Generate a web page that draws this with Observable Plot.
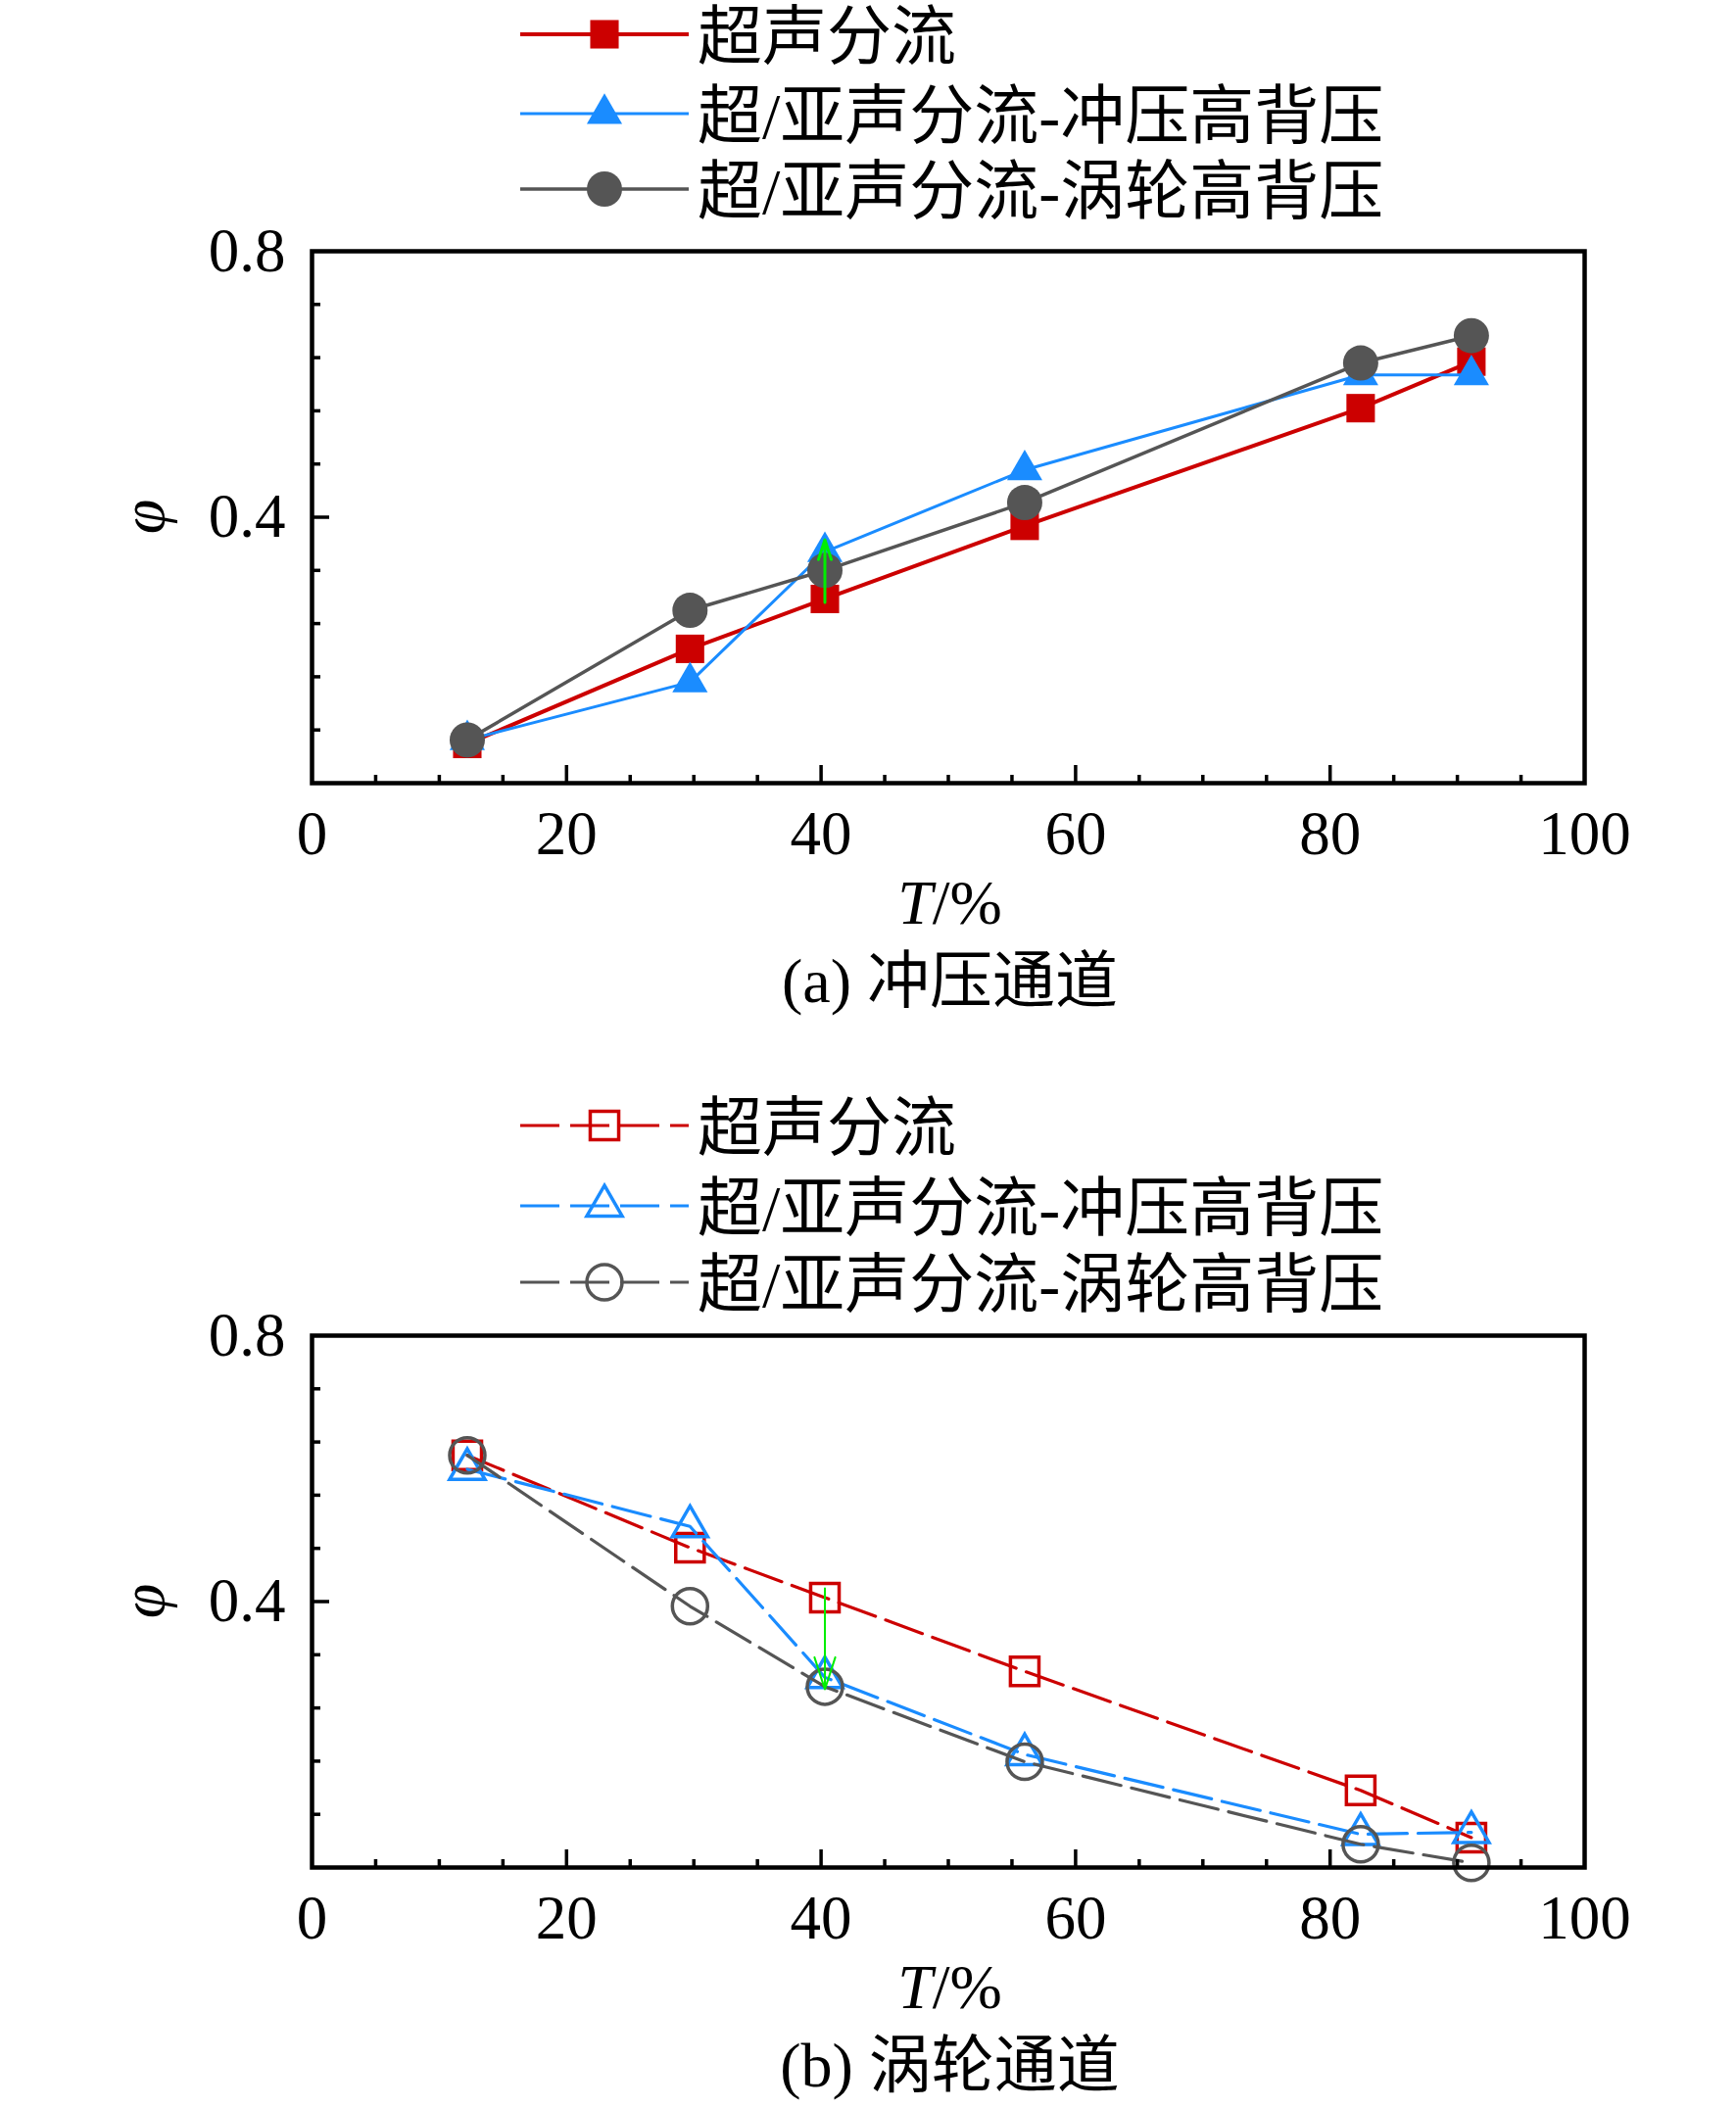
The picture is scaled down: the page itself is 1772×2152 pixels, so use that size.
<!DOCTYPE html>
<html>
<head>
<meta charset="utf-8">
<script src="https://cdn.jsdelivr.net/npm/d3@7"></script>
<script src="https://cdn.jsdelivr.net/npm/@observablehq/plot@0.6"></script>
<style>
  html, body { margin: 0; padding: 0; background: #ffffff; }
  #root { position: relative; width: 1772px; height: 2152px; overflow: hidden; background: #ffffff; }
  #root svg.panel { position: absolute; left: 0; }
  #overlay { position: absolute; left: 0; top: 0; pointer-events: none; }
</style>
</head>
<body>
<div id="root"></div>
<script>
// ---------------- data ----------------
const T = [12.2, 29.7, 40.3, 56.0, 82.4, 91.1];            // T / %
const seriesNames = ["超声分流", "超/亚声分流-冲压高背压", "超/亚声分流-涡轮高背压"];

// (a) 冲压通道
const ramSupersonic   = [0.059, 0.202, 0.277, 0.387, 0.564, 0.634];
const ramRamHigh      = [0.065, 0.152, 0.348, 0.471, 0.614, 0.614];
const ramTurbineHigh  = [0.065, 0.260, 0.320, 0.422, 0.632, 0.673];

// (b) 涡轮通道
const turbSupersonic  = [0.620, 0.481, 0.406, 0.295, 0.116, 0.045];
const turbRamHigh     = [0.599, 0.513, 0.286, 0.170, 0.050, 0.053];
const turbTurbineHigh = [0.620, 0.393, 0.272, 0.159, 0.035, 0.007];

// green arrows at T = 40.3
const arrowT  = [40.3];
const arrowA  = [0.272, 0.366];   // from, to
const arrowB  = [0.420, 0.268];   // from, to

// ticks
const xLabelTicks = [0, 20, 40, 60, 80, 100];
const xMajorTicks = [20, 40, 60, 80];
const xMinorTicks = [5, 10, 15, 25, 30, 35, 45, 50, 55, 65, 70, 75, 85, 90, 95];
const yLabelTicks = [0.4, 0.8];
const yMajorTicks = [0.4];
const yMinorTicks = [0.08, 0.16, 0.24, 0.32, 0.48, 0.56, 0.64, 0.72];
const captions = ["(a) 冲压通道", "(b) 涡轮通道"];

// ---------------- styles ----------------
const colors  = ["#cc0000", "#1a8cff", "#555555"];
const symbols = ["square", "triangle", "circle"];
const radii   = [16.4, 13.4, 18];
const solidWidths = [4, 3, 3.5];
const dash = "40,11";
const SERIF = "'Liberation Serif', 'Times New Roman', 'Noto Sans CJK SC', serif";

const W = 1772;
const FRAME_L = 318, FRAME_R = 1617, FRAME_H = 543;
const MT = 56, MB = 90;

function panel(valuesList, arrowVals, hollow) {
  const marks = [];
  valuesList.forEach((vals, k) => {
    const data = T.map((t, i) => ({t, v: vals[i]}));
    marks.push(Plot.line(data, {
      x: "t", y: "v", stroke: colors[k],
      strokeWidth: hollow ? 3.2 : solidWidths[k],
      strokeDasharray: hollow ? dash : null
    }));
    marks.push(Plot.dot(data, {
      x: "t", y: "v", symbol: symbols[k], r: radii[k],
      fill: hollow ? "none" : colors[k],
      stroke: hollow ? colors[k] : "none",
      strokeWidth: hollow ? 3.5 : 0
    }));
  });
  const arrowData = arrowT.map(t => ({t, y1: arrowVals[0], y2: arrowVals[1]}));
  marks.push(Plot.arrow(arrowData, {
    x1: "t", x2: "t", y1: "y1", y2: "y2",
    stroke: "#00ee00", strokeWidth: hollow ? 2 : 3, headLength: hollow ? 30 : 26, headAngle: 36
  }));
  // ticks (inward)
  marks.push(Plot.axisX({ticks: xMajorTicks, tickSize: -18, tickFormat: () => "", strokeWidth: 3.5, label: null}));
  marks.push(Plot.axisX({ticks: xMinorTicks, tickSize: -8, tickFormat: () => "", strokeWidth: 3.5, label: null}));
  marks.push(Plot.axisY({ticks: yMajorTicks, tickSize: -18, tickFormat: () => "", strokeWidth: 3.5, label: null}));
  marks.push(Plot.axisY({ticks: yMinorTicks, tickSize: -9, tickFormat: () => "", strokeWidth: 3.5, label: null}));
  // tick labels
  marks.push(Plot.axisX({ticks: xLabelTicks, tickSize: 0, tickPadding: 28, fontSize: 63, label: null, tickFormat: d => String(d)}));
  marks.push(Plot.axisY({ticks: yLabelTicks, tickSize: 0, tickPadding: 27, fontSize: 63, label: null, tickFormat: d => d.toFixed(1)}));
  marks.push(Plot.frame({stroke: "#000", strokeWidth: 4.5}));
  const svg = Plot.plot({
    width: W, height: MT + FRAME_H + MB,
    marginLeft: FRAME_L, marginRight: W - FRAME_R, marginTop: MT, marginBottom: MB,
    x: {domain: [0, 100]},
    y: {domain: [0, 0.8]},
    style: {fontFamily: SERIF, fontSize: "63px", color: "#000", background: "transparent", overflow: "visible"},
    marks
  });
  svg.classList.add("panel");
  return svg;
}

const root = document.getElementById("root");
const frameTops = [256, 1363];
const svgA = panel([ramSupersonic, ramRamHigh, ramTurbineHigh], arrowA, false);
svgA.style.top = (frameTops[0] - MT) + "px";
root.appendChild(svgA);
const svgB = panel([turbSupersonic, turbRamHigh, turbTurbineHigh], arrowB, true);
svgB.style.top = (frameTops[1] - MT) + "px";
root.appendChild(svgB);

// ---------------- overlay: legends, axis titles, captions ----------------
const ov = d3.select(root).append("svg").attr("id", "overlay")
  .attr("width", W).attr("height", 2152)
  .style("font-family", SERIF);

const legendRows = [[35, 116, 193], [1149, 1231, 1309]];
const LEG_X0 = 531, LEG_X1 = 703, LEG_MX = 617, LEG_TX = 712, LEG_FS = 66;

legendRows.forEach((rows, p) => {
  const hollow = p === 1;
  rows.forEach((cy, k) => {
    ov.append("line")
      .attr("x1", LEG_X0).attr("x2", LEG_X1).attr("y1", cy).attr("y2", cy)
      .attr("stroke", colors[k]).attr("stroke-width", hollow ? 3.2 : solidWidths[k])
      .attr("stroke-dasharray", hollow ? dash : null);
    const sym = {square: d3.symbolSquare, triangle: d3.symbolTriangle, circle: d3.symbolCircle}[symbols[k]];
    ov.append("path")
      .attr("d", d3.symbol(sym, Math.PI * radii[k] * radii[k])())
      .attr("transform", `translate(${LEG_MX},${cy})`)
      .attr("fill", hollow ? "none" : colors[k])
      .attr("stroke", hollow ? colors[k] : "none")
      .attr("stroke-width", hollow ? 3.5 : 0);
    ov.append("text")
      .attr("x", LEG_TX).attr("y", cy + 0.38 * LEG_FS)
      .attr("font-size", LEG_FS).attr("fill", "#000")
      .text(seriesNames[k]);
  });
});

frameTops.forEach((top, p) => {
  const bottom = top + FRAME_H;
  const cx = (FRAME_L + FRAME_R) / 2 + 2;
  // x-axis title  T/%
  const xt = ov.append("text")
    .attr("x", cx).attr("y", bottom + 144).attr("text-anchor", "middle")
    .attr("font-size", 64).attr("fill", "#000");
  xt.append("tspan").attr("font-style", "italic").text("T");
  xt.append("tspan").text("/%");
  // y-axis title φ
  ov.append("text")
    .attr("transform", `translate(${167},${top + FRAME_H / 2}) rotate(-90)`)
    .attr("text-anchor", "middle").attr("font-size", 64)
    .attr("font-style", "italic").attr("fill", "#000")
    .text("φ");
  // caption
  ov.append("text")
    .attr("x", cx).attr("y", bottom + 224).attr("text-anchor", "middle")
    .attr("font-size", 64).attr("fill", "#000")
    .text(captions[p]);
});
</script>
</body>
</html>
